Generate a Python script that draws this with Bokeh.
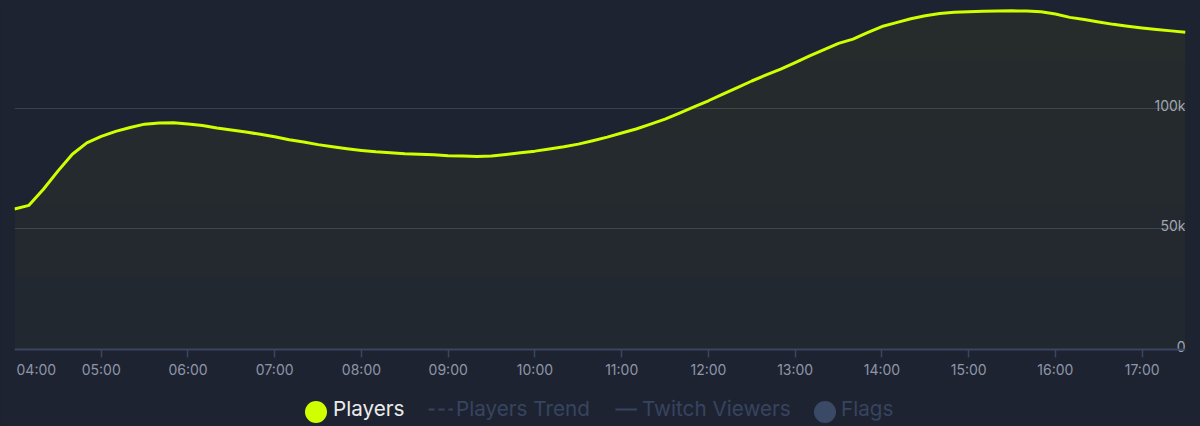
import numpy as np
from bokeh.plotting import figure
from bokeh.models import (Range1d, FixedTicker, Legend, LegendItem, Label, Grid,
                          LinearAxis, ColumnDataSource)
from bokeh.core.properties import value
from bokeh.embed import file_html
from bokeh.resources import INLINE

# Concurrent players, sampled every 10 minutes from 04:00
start_hour = 4.0
step_minutes = 10
players = [58300, 59800, 66500, 74000, 81000, 85700, 88400, 90500, 92100, 93500,
           94000, 94100, 93600, 92900, 91900, 91100, 90200, 89300, 88300, 87000,
           86100, 85000, 84100, 83300, 82600, 82000, 81600, 81200, 81000, 80800,
           80400, 80300, 80100, 80300, 80900, 81600, 82300, 83200, 84100, 85200,
           86600, 88100, 89800, 91500, 93500, 95600, 98100, 100700, 103200, 106000,
           108700, 111400, 113900, 116300, 119000, 121800, 124400, 127000, 128800, 131500,
           134000, 135600, 137200, 138500, 139400, 139900, 140100, 140300, 140400, 140500,
           140400, 140100, 139200, 137800, 136900, 135900, 134900, 134100, 133400, 132800,
           132200, 131600]

hour_ticks = [4, 5, 6, 7, 8, 9, 10, 11, 12, 13, 14, 15, 16, 17]
hour_labels = ["04:00", "05:00", "06:00", "07:00", "08:00", "09:00", "10:00",
               "11:00", "12:00", "13:00", "14:00", "15:00", "16:00", "17:00"]
y_ticks = [0, 50000, 100000]
y_labels = ["0", "50k", "100k"]

legend_names = ["Players", "Players Trend", "Twitch Viewers", "Flags"]

hours = start_hour + np.arange(len(players)) * step_minutes / 60.0
players_arr = np.array(players, dtype=float)

BG = "#1e2332"
LIME = "#d0ff00"
MUTED = "#37445f"
TICK_TXT = "#8e96a7"
AXIS = "#3a4660"
FONT = "Inter"

# The frame fills the whole canvas; the value axis top sits at the upper edge and
# zero sits 77 px above the bottom, leaving room for time labels and the legend.
W, H = 1200, 426
plot_h = 349
y_top = 144800
y_bottom = -y_top * (H - plot_h) / plot_h

p = figure(width=W, height=H, output_backend="svg", toolbar_location=None,
           x_range=Range1d(hours[0], hours[-1]), y_range=Range1d(y_bottom, y_top),
           x_axis_location=None, y_axis_location=None,
           min_border_left=14, min_border_right=15, min_border_top=0, min_border_bottom=0)
p.background_fill_color = BG
p.border_fill_color = BG
p.outline_line_color = None
p.styles = {"background-color": BG}
p.xgrid.visible = False
p.ygrid.visible = False

grid = Grid(dimension=1, ticker=FixedTicker(ticks=y_ticks[1:]),
            grid_line_color="#3a404f", grid_line_width=1)
p.add_layout(grid, "center")

# Area under the curve, a little denser toward the top
src = ColumnDataSource(dict(x=hours, y=players_arr))
for level in [0, 30000, 60000, 90000, 120000]:
    p.varea(x=hours, y1=np.full_like(players_arr, level),
            y2=np.maximum(players_arr, level),
            fill_color=LIME, fill_alpha=0.008 if level else 0.022)

p.line("x", "y", source=src, line_color=LIME, line_width=3, line_join="round")

# Time axis pinned at zero
ax = LinearAxis(fixed_location=0, ticker=FixedTicker(ticks=hour_ticks[1:]))
ax.major_label_overrides = {h: l for h, l in zip(hour_ticks[1:], hour_labels[1:])}
ax.axis_line_color = AXIS
ax.axis_line_width = 2
ax.major_tick_line_color = AXIS
ax.major_tick_line_width = 1.5
ax.major_tick_out = 8
ax.major_tick_in = 0
ax.minor_tick_line_color = None
ax.major_label_text_color = TICK_TXT
ax.major_label_text_font = FONT
ax.major_label_text_font_size = "14px"
ax.major_label_standoff = 3
p.add_layout(ax, "below")

p.add_layout(Label(x=hour_ticks[0], y=0, text=hour_labels[0], y_offset=-11,
                   text_align="left", text_baseline="top", x_offset=2,
                   text_color=TICK_TXT, text_font=FONT, text_font_size="14px"))

# Value labels sit inside the plot, right-aligned above their grid lines
p.text(x=[hours[-1]] * len(y_ticks), y=y_ticks, text=y_labels,
       text_align="right", text_baseline="alphabetic", y_offset=-3,
       text_color="#a0a6b2", text_font=value(FONT), text_font_size="14px")

# Legend swatches: renderers holding a single empty (NaN) point, so nothing
# shows in the plot itself.
def nan_source():
    return ColumnDataSource(dict(x=[np.nan], y=[np.nan]))


r_players = p.scatter(x="x", y="y", source=nan_source(), marker="circle",
                      fill_color=LIME, line_color=None)
r_trend = p.line(x="x", y="y", source=nan_source(), line_color=MUTED,
                 line_width=2, line_dash="6 4")
r_twitch = p.line(x="x", y="y", source=nan_source(), line_color=MUTED, line_width=2)
r_flags = p.scatter(x="x", y="y", source=nan_source(), marker="circle",
                    fill_color="#3a4966", line_color=None)
r_blank = p.line(x="x", y="y", source=nan_source(), line_alpha=0)


def add_legend(name, renderer, color, gw, gh, standoff, loc):
    lg = Legend(items=[LegendItem(label=name, renderers=[renderer])], location=loc,
                orientation="horizontal", background_fill_alpha=0, border_line_alpha=0,
                padding=0, margin=0, spacing=0, glyph_width=gw, glyph_height=gh,
                label_standoff=standoff, label_text_color=color, label_text_font=FONT,
                label_text_font_size="20.7px", label_height=20, label_width=0)
    p.add_layout(lg, "center")


# round swatches (marker diameter is 0.4 of the swatch box) and their labels
add_legend("", r_players, "#f2f2f2", 55, 55, 0, (274, -12.5))
add_legend(legend_names[0], r_blank, "#ececec", 1, 20, 0, (318, 5))
add_legend(legend_names[1], r_trend, MUTED, 25, 20, 3, (414, 5))
add_legend(legend_names[2], r_twitch, MUTED, 22, 20, 5, (601, 5))
add_legend("", r_flags, MUTED, 55, 55, 0, (783, -12.5))
add_legend(legend_names[3], r_blank, MUTED, 1, 20, 0, (826, 5))

open("out.html", "w").write(file_html(p, INLINE))
